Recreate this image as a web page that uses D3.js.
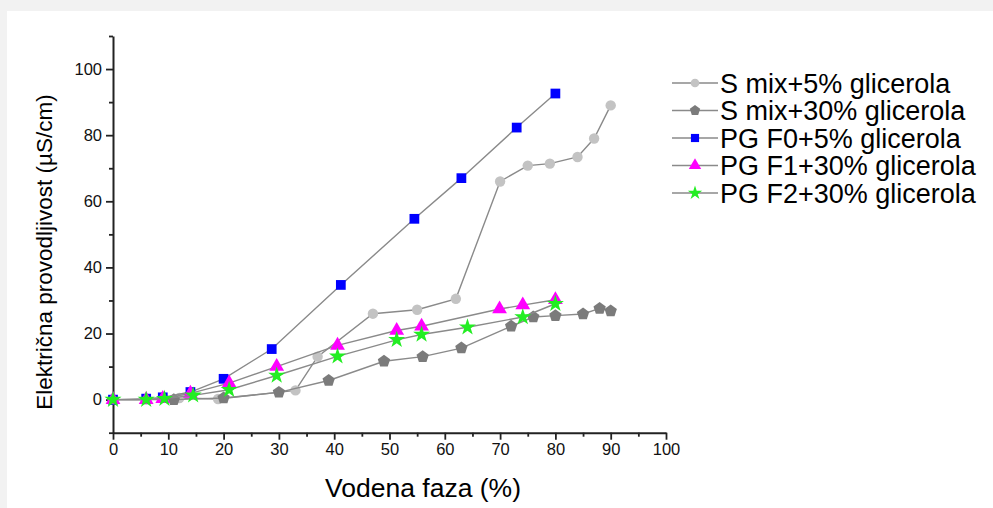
<!DOCTYPE html>
<html>
<head>
<meta charset="utf-8">
<script src="https://cdn.jsdelivr.net/npm/d3@7"></script>
<style>
  body { margin: 0; background: #f2f2f2; }
  svg { display: block; }
</style>
</head>
<body>
<svg width="993" height="508"></svg>
<script>
// values
var sMix5X = [0, 6, 12, 19, 33, 37, 47, 55, 62, 70, 75, 79, 84, 87, 90];
var sMix5Y = [0, 0, 0.5, 0.2, 2.8, 13, 26, 27.2, 30.5, 66, 70.8, 71.4, 73.4, 79, 89];

var sMix30X = [0, 11, 20, 30, 39, 49, 56, 63, 72, 76, 80, 85, 88, 90];
var sMix30Y = [0, 0, 0.5, 2.2, 5.8, 11.6, 13, 15.6, 22.2, 25, 25.4, 25.9, 27.6, 26.8];

var f0X = [0, 6, 9, 14, 20, 28.7, 41.2, 54.5, 63, 73, 80];
var f0Y = [0, 0.3, 0.7, 2.3, 6.3, 15.3, 34.7, 54.7, 67, 82.3, 92.6];

var f1X = [0, 6, 9, 14, 21, 29.6, 40.6, 51.3, 55.8, 69.9, 74.1, 80];
var f1Y = [0, 0, 0.3, 1.9, 5, 10, 16.4, 20.9, 22.2, 27.4, 28.6, 30.2];

var f2X = [0, 6, 9.3, 14.5, 21, 29.6, 40.6, 51.3, 55.8, 64.1, 74.1, 80];
var f2Y = [0, 0, 0.3, 1.3, 3, 7.3, 13.1, 18.1, 19.7, 21.9, 25, 29];

var seriesNames = ["S mix+5% glicerola", "S mix+30% glicerola", "PG F0+5% glicerola",
                   "PG F1+30% glicerola", "PG F2+30% glicerola"];
var xTicks = [0, 10, 20, 30, 40, 50, 60, 70, 80, 90, 100];
var yTicks = [0, 20, 40, 60, 80, 100];

var pentagon = {
  draw: function(context, size) {
    var r = Math.sqrt(size / 2.378);
    for (var i = 0; i < 5; i++) {
      var a = -Math.PI / 2 + i * 2 * Math.PI / 5;
      if (i == 0) context.moveTo(r * Math.cos(a), r * Math.sin(a));
      else context.lineTo(r * Math.cos(a), r * Math.sin(a));
    }
    context.closePath();
  }
};

var series = [
  {name: seriesNames[0], xs: sMix5X, ys: sMix5Y, color: "#c3c3c3", sym: d3.symbolCircle, size: 85},
  {name: seriesNames[1], xs: sMix30X, ys: sMix30Y, color: "#7b7b7b", sym: pentagon, size: 100},
  {name: seriesNames[2], xs: f0X, ys: f0Y, color: "#0000ff", sym: d3.symbolSquare, size: 95},
  {name: seriesNames[3], xs: f1X, ys: f1Y, color: "#ff00ff", sym: d3.symbolTriangle, size: 95},
  {name: seriesNames[4], xs: f2X, ys: f2Y, color: "#22ee22", sym: d3.symbolStar, size: 90}
];

var svg = d3.select("svg");
var width = +svg.attr("width");
var height = +svg.attr("height");

svg.append("rect")
  .attr("x", 7).attr("y", 11)
  .attr("width", width - 7).attr("height", height - 11)
  .attr("fill", "#fff");

var x = d3.scaleLinear().domain([0, 100]).range([113, 666]);
var y = d3.scaleLinear().domain([-10, 110]).range([432.7, 36]);

// axes: major labelled ticks, minor ticks in between
svg.append("g").attr("transform", "translate(0," + y(-10) + ")")
  .call(d3.axisBottom(x).tickValues(xTicks).tickSize(7).tickSizeOuter(0).tickPadding(4));
svg.append("g").attr("transform", "translate(0," + y(-10) + ")")
  .call(d3.axisBottom(x).tickValues(d3.range(5, 100, 10)).tickSize(4).tickFormat(""))
  .select(".domain").remove();

svg.append("g").attr("transform", "translate(" + x(0) + ",0)")
  .call(d3.axisLeft(y).tickValues(yTicks).tickSize(7).tickSizeOuter(0).tickPadding(4));
svg.append("g").attr("transform", "translate(" + x(0) + ",0)")
  .call(d3.axisLeft(y).tickValues([-10, 10, 30, 50, 70, 90, 110]).tickSize(4).tickFormat(""))
  .select(".domain").remove();

svg.selectAll(".domain").attr("stroke", "#222").attr("stroke-width", 2);
svg.selectAll(".tick line").attr("stroke", "#222").attr("stroke-width", 1.8);
svg.selectAll(".tick text")
  .style("font-family", "Liberation Sans, Arial")
  .style("font-size", "16.5px")
  .attr("fill", "#111");

var line = d3.line()
  .x(function(d) { return x(d[0]); })
  .y(function(d) { return y(d[1]); });

series.forEach(function(s) {
  var pts = s.xs.map(function(v, i) { return [v, s.ys[i]]; });
  svg.append("path")
    .datum(pts)
    .attr("d", line)
    .attr("fill", "none")
    .attr("stroke", "#8a8a8a")
    .attr("stroke-width", 1.4);
  svg.append("g").selectAll("path")
    .data(pts)
    .enter().append("path")
    .attr("transform", function(d) { return "translate(" + x(d[0]) + "," + y(d[1]) + ")"; })
    .attr("d", d3.symbol().type(s.sym).size(s.size))
    .attr("fill", s.color);
});

// legend
var legend = svg.append("g").attr("transform", "translate(672,83)");
series.forEach(function(s, i) {
  var g = legend.append("g").attr("transform", "translate(0," + (i * 27.5) + ")");
  g.append("line").attr("x1", 0).attr("x2", 46).attr("y1", 0).attr("y2", 0)
    .attr("stroke", "#8a8a8a").attr("stroke-width", 1.4);
  g.append("path")
    .attr("transform", "translate(23,0)")
    .attr("d", d3.symbol().type(s.sym).size(s.size * 0.7))
    .attr("fill", s.color);
  g.append("text")
    .attr("x", 48).attr("y", 9.5)
    .text(s.name)
    .style("font-family", "Liberation Sans, Arial")
    .style("font-size", "27px")
    .attr("fill", "#000");
});

// axis titles
svg.append("text")
  .attr("x", 423).attr("y", 497)
  .style("text-anchor", "middle")
  .style("font-family", "Liberation Sans, Arial")
  .style("font-size", "26.5px")
  .text("Vodena faza (%)");

svg.append("text")
  .attr("transform", "translate(52,252) rotate(-90)")
  .style("text-anchor", "middle")
  .style("font-family", "Liberation Sans, Arial")
  .style("font-size", "22.5px")
  .text("Električna provodljivost (µS/cm)");
</script>
</body>
</html>
